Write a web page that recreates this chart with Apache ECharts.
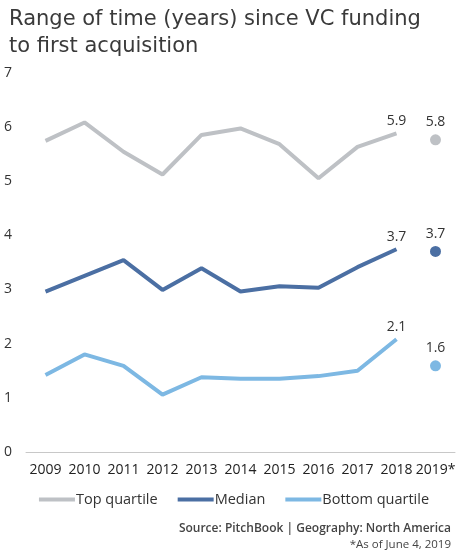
<!DOCTYPE html>
<html>
<head>
<meta charset="utf-8">
<script src="https://cdn.jsdelivr.net/npm/echarts@6/dist/echarts.min.js"></script>
<style>
  html, body { margin: 0; padding: 0; background: #fff; }
  #chart { width: 468px; height: 555px; }
</style>
</head>
<body>
<div id="chart"></div>
<script>
// data
const years = ["2009", "2010", "2011", "2012", "2013", "2014", "2015", "2016", "2017", "2018", "2019*"];
const topQuartile = [5.74, 6.08, 5.54, 5.12, 5.85, 5.97, 5.68, 5.05, 5.63, 5.88, 5.76];
const median = [2.96, 3.25, 3.54, 2.99, 3.39, 2.96, 3.06, 3.03, 3.41, 3.74, 3.70];
const bottomQuartile = [1.42, 1.80, 1.59, 1.06, 1.38, 1.35, 1.35, 1.40, 1.50, 2.08, 1.59];
const yTicks = [0, 1, 2, 3, 4, 5, 6, 7];

const seriesDefs = [
  { name: "Top quartile", values: topQuartile, color: "#BEC1C5" },
  { name: "Median", values: median, color: "#4B6FA3" },
  { name: "Bottom quartile", values: bottomQuartile, color: "#7DB8E3" },
];

const labelStyle = {
  show: true,
  position: "top",
  distance: 5,
  color: "#333",
  fontSize: 14,
  fontFamily: "Open Sans",
  formatter: p => Number(Array.isArray(p.value) ? p.value[1] : p.value).toFixed(1),
};

const chartDom = document.getElementById("chart");
const myChart = echarts.init(chartDom);

const series = [];
seriesDefs.forEach(d => {
  const last = d.values.length - 1;
  // line up to 2018, label only on the 2018 point
  series.push({
    name: d.name,
    type: "line",
    data: d.values.slice(0, last).map((v, i) =>
      i === last - 1 ? { value: v, label: labelStyle } : v),
    symbol: "circle",
    symbolSize: 0,
    showSymbol: true,
    lineStyle: { width: 4, color: d.color },
    itemStyle: { color: d.color },
    label: { show: false },
  });
  // 2019 partial-year point
  series.push({
    name: d.name,
    type: "scatter",
    data: [[years[last], d.values[last]]],
    symbolSize: 11,
    itemStyle: { color: d.color, opacity: 1 },
    label: labelStyle,
  });
});

const option = {
  animation: false,
  textStyle: { fontFamily: "Open Sans" },
  title: {
    text: "Range of time (years) since VC funding\nto first acquisition",
    left: 4,
    top: 1,
    textStyle: { fontSize: 21, fontWeight: "normal", color: "#3a3a3a", lineHeight: 27, fontFamily: "DejaVu Sans" },
  },
  grid: { left: 26, right: 13, top: 72.6, bottom: 103 },
  legend: {
    bottom: 43,
    left: "center",
    itemWidth: 36,
    itemHeight: 4,
    itemGap: 20,
    icon: "rect",
    data: seriesDefs.map(d => ({ name: d.name, itemStyle: { color: d.color } })),
    textStyle: { fontSize: 14.5, color: "#333", padding: [0, 0, 0, -4] },
  },
  xAxis: {
    type: "category",
    data: years,
    boundaryGap: true,
    axisLine: { lineStyle: { color: "#c8c8c8", width: 1 } },
    axisTick: { show: false },
    axisLabel: { color: "#222", fontSize: 14, margin: 11, interval: 0 },
  },
  yAxis: {
    type: "value",
    min: yTicks[0],
    max: yTicks[yTicks.length - 1],
    interval: 1,
    splitLine: { show: false },
    axisLine: { show: false },
    axisTick: { show: false },
    axisLabel: { color: "#333", fontSize: 14, align: "left", margin: 22 },
  },
  graphic: [
    {
      type: "text",
      right: 17,
      top: 523,
      style: { text: "Source: PitchBook | Geography: North America", fill: "#444", fontSize: 12, fontFamily: "Open Sans", fontWeight: 600 },
    },
    {
      type: "text",
      right: 17,
      top: 539,
      style: { text: "*As of June 4, 2019", fill: "#444", fontSize: 11.5, fontFamily: "Open Sans" },
    },
  ],
  series: series,
};

option && myChart.setOption(option);
</script>
</body>
</html>
